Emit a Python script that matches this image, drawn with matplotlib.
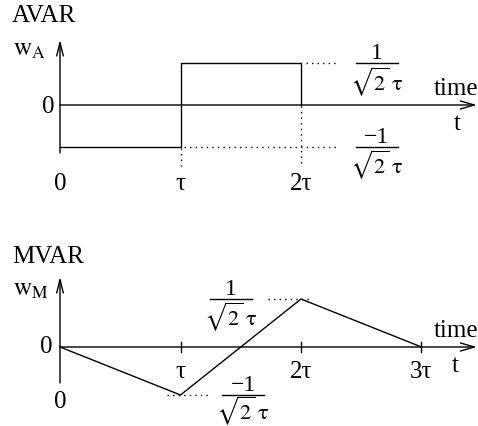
import matplotlib
matplotlib.use("Agg")
import matplotlib.pyplot as plt
from matplotlib.patches import FancyArrowPatch

plt.rcParams['font.family'] = ['Liberation Serif', 'DejaVu Serif']
plt.rcParams['mathtext.fontset'] = 'stix'

# time in units of tau, weight in units of 1/(sqrt(2) tau)
t_avar = [0, 1, 1, 2, 2]
w_avar = [-1, -1, 1, 1, 0]
t_mvar = [0, 1, 2, 3]
w_mvar = [0, -1, 1, 0]
tick_pos = [0, 1, 2, 3]
tick_labels = ['0', 'τ', '2τ', '3τ']

FS = 18
LW = 1.0


def arrow(ax, p0, p1, hl=0.95, hw=0.24):
    ax.add_patch(FancyArrowPatch(p0, p1, arrowstyle=f'->,head_length={hl},head_width={hw}',
                                 mutation_scale=10, lw=LW, color='k',
                                 shrinkA=0, shrinkB=0, clip_on=False))


def frac(ax, t, w, num, down=19.0, width=0.35):
    ax.plot([t - width / 2, t + width / 2], [w, w], color='k', lw=LW, clip_on=False)
    ax.annotate(num, (t, w), xytext=(0, 3), textcoords='offset points',
                ha='center', va='baseline', fontsize=17)
    ax.annotate(r'$\mathrm{\sqrt{2}\;\tau}$', (t, w), xytext=(0, -down), textcoords='offset points',
                ha='center', va='baseline', fontsize=16)


def dotted(ax, xs, ys):
    ax.plot(xs, ys, color='k', lw=LW, ls=(0, (1, 3)), clip_on=False)


fig = plt.figure(figsize=(4.78, 4.26), dpi=100)
xlim = (-60 / 120.5, 418 / 120.5)

# ---- AVAR ----
ax = fig.add_axes([0, 0.5, 1, 0.5])
ax.set_xlim(*xlim)
ax.set_ylim((105 - 213) / 42, 105 / 42)
ax.axis('off')

arrow(ax, (0, -1.143), (0, 1.55))
arrow(ax, (0, 0), (xlim[1] - 0.01, 0), hl=1.0, hw=0.29)
ax.plot(t_avar, w_avar, color='k', lw=LW, clip_on=False)
dotted(ax, [2.04, 2.30], [1, 1])
dotted(ax, [1.03, 2.30], [-1, -1])
dotted(ax, [1, 1], [-1.03, -1.45])
dotted(ax, [2, 2], [-0.03, -1.40])

ax.text(-0.40, 1.98, 'AVAR', fontsize=FS, ha='left', va='baseline')
ax.text(-0.39, 1.19, r'$\mathrm{w_A}$', fontsize=FS, ha='left', va='baseline')
ax.text(-0.10, -0.19, '0', fontsize=FS, ha='center', va='baseline')
for p, lab in zip(tick_pos[:3], tick_labels[:3]):
    ax.text(p, -2.03, lab, fontsize=FS, ha='center', va='baseline')
frac(ax, 2.63, 1, '1', down=19.5)
frac(ax, 2.63, -1, '−1', down=19.0)
ax.text(3.29, 0.24, 'time', fontsize=FS, ha='center', va='baseline')
ax.text(3.30, -0.60, 't', fontsize=FS, ha='center', va='baseline')

# ---- MVAR ----
ax = fig.add_axes([0, 0, 1, 0.5])
ax.set_xlim(*xlim)
ax.set_ylim((347 - 426) / 48, (347 - 213) / 48)
ax.axis('off')

arrow(ax, (0, -0.75), (0, 1.46))
arrow(ax, (0, 0), (xlim[1] - 0.01, 0), hl=1.0, hw=0.29)
for p in tick_pos[1:]:
    ax.plot([p, p], [-0.11, 0.11], color='k', lw=LW)
ax.plot(t_mvar, w_mvar, color='k', lw=LW, clip_on=False)
dotted(ax, [1.73, 2.08], [1, 1])
dotted(ax, [0.89, 1.24], [-1, -1])

ax.text(-0.40, 1.75, 'MVAR', fontsize=FS, ha='left', va='baseline')
ax.text(-0.39, 1.08, r'$\mathrm{w_M}$', fontsize=FS, ha='left', va='baseline')
ax.text(-0.11, -0.125, '0', fontsize=FS, ha='center', va='baseline')
ax.text(0, -1.27, tick_labels[0], fontsize=FS, ha='center', va='baseline')
for p, lab in zip(tick_pos[1:], tick_labels[1:]):
    ax.text(p, -0.646, lab, fontsize=FS, ha='center', va='baseline')
frac(ax, 1.42, 1, '1', down=19.0)
frac(ax, 1.52, -1, '−1', down=17.5)
ax.text(3.29, 0.21, 'time', fontsize=FS, ha='center', va='baseline')
ax.text(3.28, -0.52, 't', fontsize=FS, ha='center', va='baseline')

fig.savefig('out.png', dpi=100)
